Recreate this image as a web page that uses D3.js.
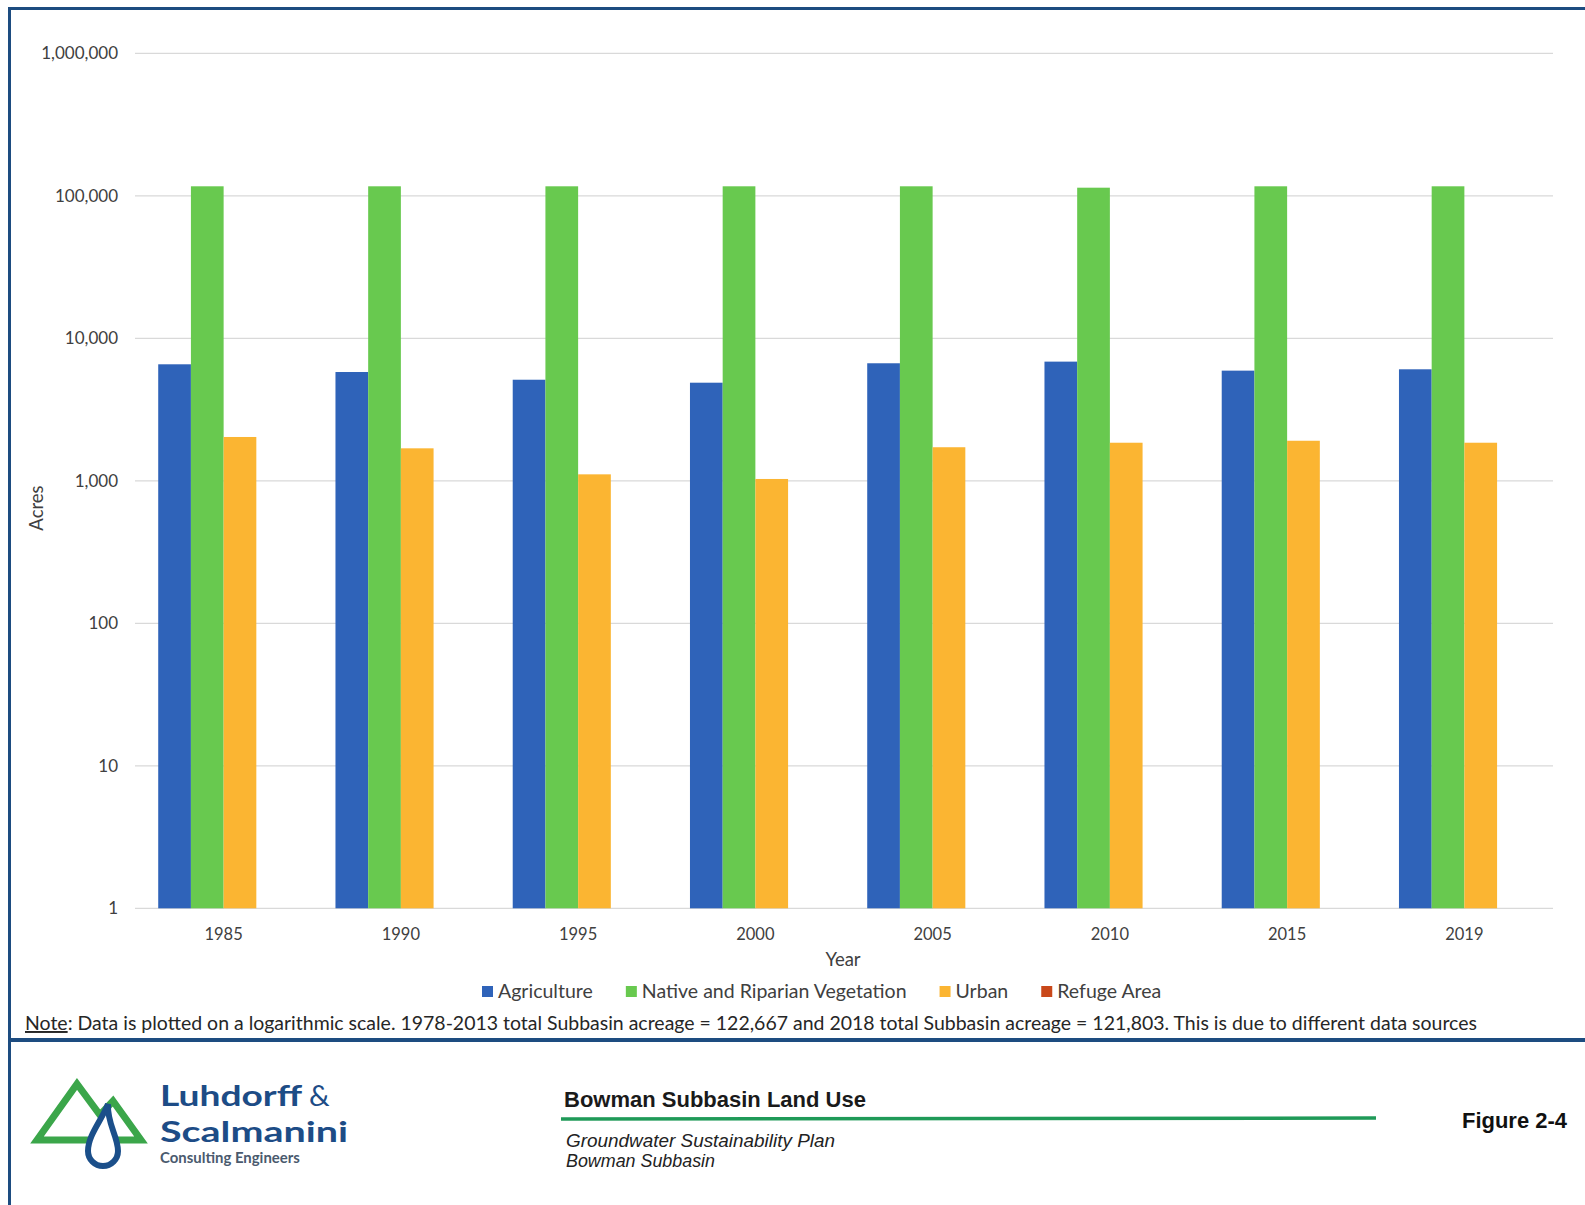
<!DOCTYPE html>
<html>
<head>
<meta charset="utf-8">
<script src="https://cdn.jsdelivr.net/npm/d3@7"></script>
<style>
  body { margin: 0; background: #fff; }
  svg { display: block; }
</style>
</head>
<body>
<div id="chart"></div>
<script>
// data (acres, log scale)
const years = ["1985", "1990", "1995", "2000", "2005", "2010", "2015", "2019"];
const agriculture = [6570, 5800, 5120, 4880, 6680, 6860, 5930, 6060];
const nativeVegetation = [116600, 116600, 116600, 116600, 116600, 114000, 116600, 116600];
const urban = [2030, 1690, 1110, 1030, 1720, 1850, 1910, 1850];
const refugeArea = [0, 0, 0, 0, 0, 0, 0, 0];   // not visible on the log chart

const seriesNames = ["Agriculture", "Native and Riparian Vegetation", "Urban", "Refuge Area"];
const seriesValues = [agriculture, nativeVegetation, urban, refugeArea];
const seriesColors = ["#2f63b9", "#68c94f", "#fbb532", "#c9481a"];
const yTicks = [1, 10, 100, 1000, 10000, 100000, 1000000];

const noteText = ": Data is plotted on a logarithmic scale. 1978-2013 total Subbasin acreage = 122,667 and 2018 total Subbasin acreage = 121,803. This is due to different data sources";

const width = 1585, height = 1205;
const plot = {left: 135, right: 1553, top: 53.3, bottom: 908.3};
const navy = "#1d4c80";
const font = "Lato, 'Open Sans', sans-serif";

const svg = d3.select("#chart").append("svg")
    .attr("width", width)
    .attr("height", height);

svg.append("rect").attr("width", width).attr("height", height).attr("fill", "#fff");

// shrink/grow a text so it spans a given width
function fitWidth(sel, w) {
    const fs = parseFloat(sel.attr("font-size"));
    const len = sel.node().getComputedTextLength();
    sel.attr("font-size", fs * w / len);
}

// scales
const x = d3.scaleBand().domain(years).range([plot.left, plot.right]).padding(0);
const xSub = d3.scaleBand().domain(seriesNames).range([0, x.bandwidth()])
    .paddingInner(0).paddingOuter(0.71);
const y = d3.scaleLog().domain([1, 1e6]).range([plot.bottom, plot.top]);

// gridlines
svg.append("g")
    .selectAll("line")
    .data(yTicks)
    .join("line")
    .attr("x1", plot.left).attr("x2", plot.right)
    .attr("y1", d => y(d)).attr("y2", d => y(d))
    .attr("stroke", "#d9d9d9")
    .attr("stroke-width", 1.2);

// y axis labels
const yAxis = d3.axisLeft(y).tickValues(yTicks).tickFormat(d3.format(",")).tickSize(0).tickPadding(17);
const yG = svg.append("g")
    .attr("transform", "translate(" + plot.left + ",0)")
    .call(yAxis);
yG.select(".domain").remove();
yG.selectAll("text").attr("font-family", font).attr("font-size", 17).attr("fill", "#404040");

// x axis labels
const xAxis = d3.axisBottom(x).tickSize(0).tickPadding(20);
const xG = svg.append("g")
    .attr("transform", "translate(0," + plot.bottom + ")")
    .call(xAxis);
xG.select(".domain").remove();
xG.selectAll("text").attr("font-family", font).attr("font-size", 16.5).attr("fill", "#404040");

// bars
const rows = years.map((yr, i) => ({year: yr, vals: seriesNames.map((s, j) => ({name: s, value: seriesValues[j][i], color: seriesColors[j]}))}));

svg.append("g")
    .selectAll("g")
    .data(rows)
    .join("g")
    .attr("transform", d => "translate(" + x(d.year) + ",0)")
    .selectAll("rect")
    .data(d => d.vals.filter(v => v.value > 0))
    .join("rect")
    .attr("x", d => xSub(d.name))
    .attr("width", xSub.bandwidth())
    .attr("y", d => y(d.value))
    .attr("height", d => plot.bottom - y(d.value))
    .attr("fill", d => d.color);

// axis titles
svg.append("text")
    .attr("x", (plot.left + plot.right) / 2 - 1)
    .attr("y", 966)
    .attr("text-anchor", "middle")
    .attr("font-family", font).attr("font-size", 18.5).attr("fill", "#404040")
    .text("Year");

svg.append("text")
    .attr("transform", "translate(43,508) rotate(-90)")
    .attr("text-anchor", "middle")
    .attr("font-family", font).attr("font-size", 18.5).attr("fill", "#404040")
    .text("Acres");

// legend
const legend = svg.append("g").attr("transform", "translate(482,0)");
let lx = 0;
const probe = legend.append("text").attr("font-family", font).attr("font-size", 18).text(seriesNames[1]);
fitWidth(probe, 265);
const legendFs = parseFloat(probe.attr("font-size"));
probe.remove();
seriesNames.forEach((name, i) => {
    legend.append("rect")
        .attr("x", lx).attr("y", 986)
        .attr("width", 11).attr("height", 11)
        .attr("fill", seriesColors[i]);
    const t = legend.append("text")
        .attr("x", lx + 16).attr("y", 998)
        .attr("font-family", font).attr("font-size", legendFs).attr("fill", "#404040")
        .text(name);
    lx += 16 + t.node().getComputedTextLength() + 33;
});

// note line
const note = svg.append("text")
    .attr("x", 25).attr("y", 1030)
    .attr("font-family", font).attr("font-size", 18).attr("fill", "#262626");
note.append("tspan").attr("text-decoration", "underline").text("Note");
note.append("tspan").text(noteText);
fitWidth(note, 1453);

// frame
svg.append("rect").attr("x", 8).attr("y", 7).attr("width", width).attr("height", 3).attr("fill", navy);
svg.append("rect").attr("x", 8).attr("y", 7).attr("width", 3).attr("height", height).attr("fill", navy);
svg.append("rect").attr("x", 8).attr("y", 1038).attr("width", width).attr("height", 4).attr("fill", navy);

// footer: logo
const logo = svg.append("g");
logo.append("path")
    .attr("d", "M37,1140 L77,1084 L100,1115 L113,1101 L141,1140 Z")
    .attr("fill", "none").attr("stroke", "#3ba64a").attr("stroke-width", 7)
    .attr("stroke-linejoin", "miter");
logo.append("path")
    .attr("d", "M108,1104 C102,1120 88,1135 88,1151 A15,15 0 0 0 118,1151 C118,1136 107,1124 108,1104 Z")
    .attr("fill", "#fff").attr("stroke", "#1b4f8a").attr("stroke-width", 6);

const lFont = "Lato, 'Noto Sans', sans-serif";
svg.append("text").attr("x", 160).attr("y", 1106)
    .attr("font-family", lFont).attr("font-weight", 700).attr("font-size", 29).attr("fill", "#1d4c86")
    .attr("textLength", 142).attr("lengthAdjust", "spacingAndGlyphs")
    .text("Luhdorff");
svg.append("text").attr("x", 309).attr("y", 1106)
    .attr("font-family", lFont).attr("font-weight", 400).attr("font-size", 29).attr("fill", "#1d4c86")
    .text("&");
svg.append("text").attr("x", 160).attr("y", 1142)
    .attr("font-family", lFont).attr("font-weight", 700).attr("font-size", 29).attr("fill", "#1d4c86")
    .attr("textLength", 188).attr("lengthAdjust", "spacingAndGlyphs")
    .text("Scalmanini");
const l3 = svg.append("text").attr("x", 160).attr("y", 1163)
    .attr("font-family", lFont).attr("font-weight", 700).attr("font-size", 12).attr("fill", "#4a5a6e")
    .text("Consulting Engineers");
fitWidth(l3, 140);

// footer: title block
const arial = "'Liberation Sans', Arial, sans-serif";
const title = svg.append("text").attr("x", 564).attr("y", 1107)
    .attr("font-family", arial).attr("font-weight", 700).attr("font-size", 20).attr("fill", "#1a1a1a")
    .text("Bowman Subbasin Land Use");
fitWidth(title, 302);

svg.append("line")
    .attr("x1", 561).attr("x2", 1376).attr("y1", 1119).attr("y2", 1118)
    .attr("stroke", "#1f9a58").attr("stroke-width", 3.5);

svg.append("text").attr("x", 566).attr("y", 1147)
    .attr("font-family", arial).attr("font-style", "italic").attr("font-size", 19).attr("fill", "#222")
    .attr("textLength", 269).attr("lengthAdjust", "spacingAndGlyphs")
    .text("Groundwater Sustainability Plan");
svg.append("text").attr("x", 566).attr("y", 1167)
    .attr("font-family", arial).attr("font-style", "italic").attr("font-size", 19).attr("fill", "#222")
    .attr("textLength", 149).attr("lengthAdjust", "spacingAndGlyphs")
    .text("Bowman Subbasin");

const fig = svg.append("text").attr("x", 1462).attr("y", 1128)
    .attr("font-family", arial).attr("font-weight", 700).attr("font-size", 21).attr("fill", "#111")
    .text("Figure 2-4");
fitWidth(fig, 105);
</script>
</body>
</html>
